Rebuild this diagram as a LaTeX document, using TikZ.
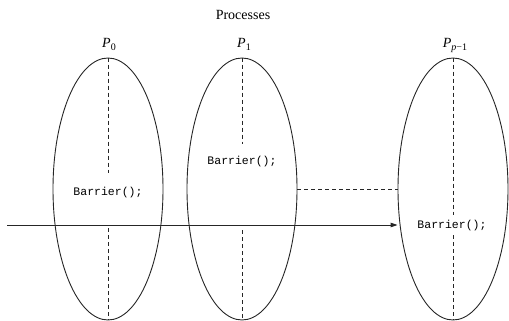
\documentclass[tikz,border=0pt]{standalone}
\usepackage{fontspec}
\setmainfont{Liberation Serif}
\setmonofont{Liberation Mono}
\usetikzlibrary{shapes.geometric,arrows.meta}
\newcommand{\psub}[1]{\textit{P}\raisebox{-3pt}{\fontsize{10}{10}\selectfont #1}}
\begin{document}
\begin{tikzpicture}[x=1pt,y=-1pt,
  proc/.style={draw=black!85,line width=0.9pt,ellipse,minimum width=110pt,minimum height=262pt,inner sep=0pt},
  code/.style={font=\ttfamily\fontsize{11.5}{13}\selectfont,inner sep=1pt},
  lbl/.style={font=\fontsize{14}{16}\selectfont,inner sep=0pt},
  dline/.style={draw=black!85,line width=0.9pt,dash pattern=on 4pt off 3pt},
  sline/.style={draw=black!85,line width=0.9pt}]
\useasboundingbox (0,0) rectangle (509,321);
\node[lbl] (title) at (243,15) {Processes};
\node[proc] (e0) at (108,189) {};
\node[proc] (e1) at (242,189) {};
\node[proc] (e2) at (453,189) {};
\node[lbl] (p0) at (109,44) {\psub{0}};
\node[lbl] (p1) at (244,44) {\psub{1}};
\node[lbl] (p2) at (455,45) {\psub{\textit{p}−1}};
\node[code] (b0) at (108,193) {Barrier();};
\node[code] (b1) at (242,162) {Barrier();};
\node[code] (b2) at (452,226) {Barrier();};
\coordinate (a0) at (108,173);
\coordinate (c0) at (108,228);
\coordinate (a1) at (242,144);
\coordinate (c1) at (242,230);
\coordinate (a2) at (453,215);
\coordinate (c2) at (453,235);
\draw[dline] (e0.north) -- (a0);
\draw[dline] (c0) -- (e0.south);
\draw[dline] (e1.north) -- (a1);
\draw[dline] (c1) -- (e1.south);
\draw[dline] (e2.north) -- (a2);
\draw[dline] (c2) -- (e2.south);
\draw[dline] (e1.east) -- (e2.west);
\coordinate (start) at (7,225);
\draw[sline,-{Triangle[length=7pt,width=4.5pt]}] (start) -- (start -| e2.west);
\end{tikzpicture}
\end{document}
